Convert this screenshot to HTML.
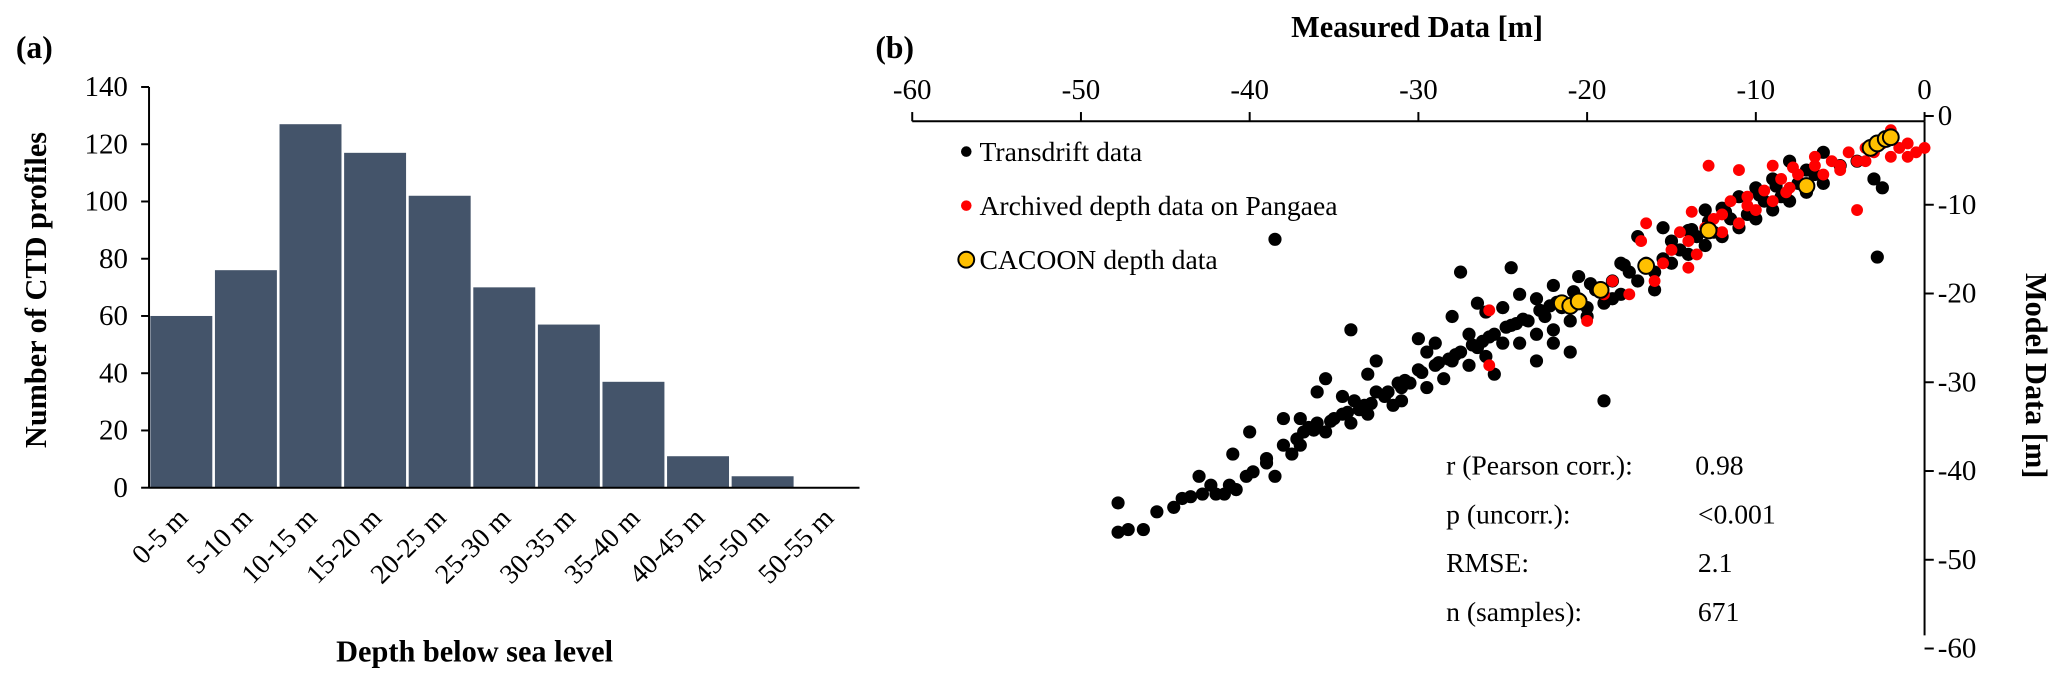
<!DOCTYPE html>
<html><head><meta charset="utf-8">
<style>
html,body{margin:0;padding:0;background:#fff;}
svg{display:block;font-family:"Liberation Serif",serif;}
</style></head>
<body>
<svg id="fig" width="2067" height="682" viewBox="0 0 1568 517.4">
<text x="12" y="44" font-size="24" font-weight="bold">(a)</text>
<text x="664" y="44" font-size="24" font-weight="bold">(b)</text>
<g id="ga"></g>
<g id="gb"></g>
</svg>
<script>
const binLabels=["0-5 m","5-10 m","10-15 m","15-20 m","20-25 m","25-30 m","30-35 m","35-40 m","40-45 m","45-50 m","50-55 m"];
const binCounts=[60,76,127,117,102,70,57,37,11,4,0];
const yTicksA=[0,20,40,60,80,100,120,140];
const xTicksB=[-60,-50,-40,-30,-20,-10,0];
const yTicksB=[0,-10,-20,-30,-40,-50,-60];
const transdriftMeasured=[-47.8,-47.8,-47.2,-46.3,-44.5,-44,-43.5,-42.8,-42.3,-42,-41.5,-41.2,-40.8,-40.2,-39.8,-39,-38.5,-38,-37.5,-37,-36.8,-36.5,-36,-35.5,-35,-34.5,-34,-33.8,-33.5,-33,-32.5,-32,-31.5,-31,-30.5,-30,-29.5,-29,-28.5,-28,-27.5,-27,-26.5,-26,-25.5,-25,-24.5,-24,-23.5,-23,-22.5,-22,-21.5,-21,-20.5,-20,-19.5,-19,-18.5,-18,-17.5,-17,-16.5,-16,-15.5,-15,-14.5,-14,-13.5,-13,-12.5,-12,-11.5,-11,-10.5,-10,-9.5,-9,-8.5,-8,-7.5,-7,-6.5,-6,-5,-4,-3,-2.5,-3,-2.8,-38.5,-34,-27.5,-19,-24.5,-21,-26,-30,-29,-28,-35.5,-33,-31,-26.5,-23,-25,-20,-18,-15.5,-13,-9,-7,-11,-12,-15,-17,-18.5,-22,-24,-20.5,-16,-14,-10,-8,-6,-29.5,-27,-32.5,-36,-34.5,-38,-37,-40,-41,-39,-43,-45.5,-23,-22,-25.5,-33.2,-32.8,-31.8,-30.8,-29.8,-28.8,-27.8,-26.8,-25.8,-24.8,-23.8,-22.8,-21.8,-34.2,-35.2,-36.2,-37.2,-31.2,-28.2,-26.2,-24.2,-22.2,-20.8,-19.8,-17.8,-13.8,-12.8,-11.8,-9.8,-8.8];
const transdriftModel=[-43,-46.3,-46,-46,-43.5,-42.5,-42.3,-42,-41,-42,-42,-41,-41.5,-40,-39.5,-38,-40,-36.5,-37.5,-36.5,-35,-34.5,-34,-35,-33.5,-33,-34,-31.5,-32.5,-33,-30.5,-31,-32,-30,-29.5,-28,-30,-27.5,-29,-27,-26,-27.5,-25.5,-26.5,-24,-25,-23,-25,-22.5,-24,-22,-23.5,-21,-22.5,-20,-21,-19,-20.5,-18,-19.5,-17,-18,-16,-17,-15.5,-16,-14.5,-15,-13,-14,-12.5,-13,-11,-12,-10.5,-11,-9,-10,-8.5,-9,-7,-8,-6,-7,-5,-4.5,-3,-7.5,-6.5,-15.3,-13.3,-23.5,-17,-31.5,-16.5,-26,-21.5,-24.5,-25,-22,-29,-28.5,-31.5,-20.5,-20,-21,-22,-16,-12,-10,-6.5,-5.5,-8.5,-9.8,-13.5,-13,-20,-18.5,-19.5,-17.5,-19,-12.3,-7.5,-4.5,-3.5,-26,-24,-27,-30.5,-31,-33.5,-33.5,-35,-37.5,-38.5,-40,-44,-27,-25,-28.5,-32,-31.8,-30.5,-29.2,-28.3,-27.2,-26.3,-25.2,-24.3,-23.2,-22.3,-21.3,-20.4,-32.8,-33.8,-34.8,-35.8,-29.5,-26.8,-24.8,-22.8,-20.8,-19.2,-18.3,-16.2,-12.2,-11.3,-10.2,-8.3,-7.3];
const pangaeaMeasured=[-25.8,-25.8,-21.5,-20,-18.5,-17.5,-16.8,-16.5,-15.5,-15,-14.5,-14,-13.5,-13,-12.5,-12.8,-12,-11.5,-11,-10.5,-10,-9.5,-9,-8.5,-8,-7.5,-7,-6.5,-6,-5.5,-5,-4.5,-4,-3.5,-3,-2.5,-2,-1.5,-1,-0.5,0,-1,-2,-4,-5,-9,-11,-19,-16,-14,-6.5,-3.5,-13.8,-8.2,-7.8,-10.5,-12];
const pangaeaModel=[-27.5,-21.3,-20.5,-22.5,-18,-19.5,-13.5,-11.5,-16,-14.5,-12.5,-13.5,-15,-12,-11,-5,-10.5,-9,-11.5,-8.5,-10,-7.8,-9,-6.5,-7.5,-6,-7,-5,-6,-4.5,-5.5,-3.5,-4.5,-3,-3.5,-2.5,-4,-3,-2.5,-3.5,-3,-4,-1,-10,-5,-5,-5.5,-19.5,-18,-16.5,-4,-4.5,-10.2,-8,-5.2,-9.5,-12.5];
const cacoonMeasured=[-21.5,-21,-20.5,-19.2,-16.5,-12.8,-7,-3.2,-2.8,-2.3,-2];
const cacoonModel=[-20.5,-20.8,-20.3,-19,-16.3,-12.3,-7.3,-3,-2.5,-2,-1.8];

const NS="http://www.w3.org/2000/svg";
function mk(parent,tag,attrs,text){const e=document.createElementNS(NS,tag);for(const k in attrs)e.setAttribute(k,attrs[k]);if(text!==undefined)e.textContent=text;parent.appendChild(e);return e;}

// Panel A
const ga=document.getElementById('ga');
const ax0=113, ay0=370, ayTop=66, binW=49;
const yA=v=>ay0-(v/140)*(ay0-ayTop);
binCounts.forEach((c,i)=>{
  if(c<=0)return;
  const r=mk(ga,'rect',{x:ax0+i*binW+1,y:yA(c),width:binW-2,height:ay0-yA(c),fill:'#44546a'});
  
  
});
const yl=mk(ga,'line',{x1:ax0,y1:ayTop,x2:ax0,y2:ay0,stroke:'#000','stroke-width':1.5});


const xl=mk(ga,'line',{x1:ax0,y1:ay0,x2:ax0+binW*11,y2:ay0,stroke:'#000','stroke-width':1.5});


yTicksA.forEach(t=>{
  mk(ga,'line',{x1:ax0-6,y1:yA(t),x2:ax0,y2:yA(t),stroke:'#000','stroke-width':1.5});
  const tx=mk(ga,'text',{x:ax0-16,y:yA(t)+7,'font-size':22,'text-anchor':'end'},String(t));
  
  
});
binLabels.forEach((l,i)=>{
  const cx=ax0+i*binW+binW/2+6, cy=ay0+24;
  const tx=mk(ga,'text',{x:cx,y:cy,'font-size':21,'text-anchor':'end',transform:`rotate(-45 ${cx} ${cy})`},l);
  
  
});
const at=mk(ga,'text',{x:0,y:0,'font-size':23,'font-weight':'bold','text-anchor':'middle',transform:'translate(35 220) rotate(-90)'},'Number of CTD profiles');


const xt=mk(ga,'text',{x:360,y:502,'font-size':23,'font-weight':'bold','text-anchor':'middle'},'Depth below sea level');



// Panel B
const gb=document.getElementById('gb');
const bx0=692,bx1=1460,by0=92,by1=496;
const xB=v=>bx0+(v+60)/60*(bx1-bx0);
const yB=v=>by0+(-v)/60*(by1-by0);
const tl=mk(gb,'line',{x1:bx0,y1:by0,x2:bx1,y2:by0,stroke:'#000','stroke-width':1.5});


const rl=mk(gb,'line',{x1:bx1,y1:by0,x2:bx1,y2:by1-14,stroke:'#000','stroke-width':1.5});


xTicksB.forEach(t=>{
  mk(gb,'line',{x1:xB(t),y1:by0-7,x2:xB(t),y2:by0,stroke:'#000','stroke-width':1.5});
  const tx=mk(gb,'text',{x:xB(t),y:by0-17,'font-size':22,'text-anchor':'middle'},String(t));
  
  
});
yTicksB.forEach(t=>{
  mk(gb,'line',{x1:bx1,y1:yB(t)-4,x2:bx1+7,y2:yB(t)-4,stroke:'#000','stroke-width':1.5});
  const tx=mk(gb,'text',{x:bx1+10,y:yB(t)+3,'font-size':22},String(t));
  
  
});
const mt=mk(gb,'text',{x:1075,y:28,'font-size':23,'font-weight':'bold','text-anchor':'middle'},'Measured Data [m]');


const yt=mk(gb,'text',{x:0,y:0,'font-size':23,'font-weight':'bold','text-anchor':'middle',transform:'translate(1537 285) rotate(90)'},'Model Data [m]');



transdriftMeasured.forEach((m,i)=>{
  const c=mk(gb,'circle',{cx:xB(m),cy:yB(transdriftModel[i]),r:5,fill:'#000'});
  
  
});
pangaeaMeasured.forEach((m,i)=>{
  const c=mk(gb,'circle',{cx:xB(m),cy:yB(pangaeaModel[i]),r:4.5,fill:'#ff0000'});
  
  
});
cacoonMeasured.forEach((m,i)=>{
  const c=mk(gb,'circle',{cx:xB(m),cy:yB(cacoonModel[i]),r:6,fill:'#ffc000',stroke:'#000','stroke-width':1.5});
  
  
});

// legend
const leg=[['Transdrift data','#000',null,4],['Archived depth data on Pangaea','#ff0000',null,4],['CACOON depth data','#ffc000','#000',6]];
leg.forEach((e,i)=>{
  const y=115+i*41;
  const c=mk(gb,'circle',{cx:733,cy:y,r:e[3],fill:e[1]});
  if(e[2]){c.setAttribute('stroke',e[2]);c.setAttribute('stroke-width',1.5);}
  
  
  const t=mk(gb,'text',{x:743,y:y+7,'font-size':21},e[0]);
  
  
});

// stats
const stats=[['r (Pearson corr.):','0.98'],['p (uncorr.):','<0.001'],['RMSE:','2.1'],['n (samples):','671']];
stats.forEach((s,i)=>{
  const y=360+i*37;
  const a=mk(gb,'text',{x:1097,y:y,'font-size':21},s[0]);
  
  
  const b=mk(gb,'text',{x:s[1]==='0.98'?1286:1288,y:y,'font-size':21},s[1]);
  
  
});
</script>
</body></html>
